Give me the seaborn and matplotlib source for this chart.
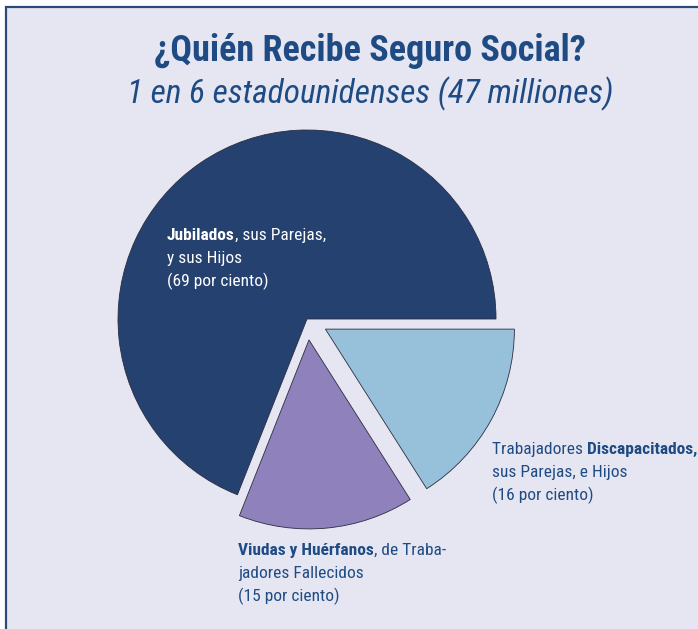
import matplotlib
matplotlib.use('Agg')
import matplotlib.pyplot as plt
from matplotlib import font_manager as fm
from matplotlib.patches import Rectangle
import seaborn as sns

# datos del grafico (orden: desde las 3 en punto, en sentido antihorario)
grupos = ['Jubilados', 'Viudas y Huérfanos', 'Trabajadores Discapacitados']
porcentajes = [69, 15, 16]
colores = ['#254170', '#8f81bb', '#97c1da']
separacion = [0, 21, 21]

titulo = '¿Quién Recibe Seguro Social?'
subtitulo = '1 en 6 estadounidenses (47 milliones)'

# etiquetas: primera linea en trozos (texto, negrita), luego las demas lineas
etiquetas = [
    [[('Jubilados', True), (', sus Parejas,', False)], 'y sus Hijos', '(69 por ciento)'],
    [[('Viudas y Huérfanos', True), (', de Traba-', False)], 'jadores Fallecidos', '(15 por ciento)'],
    [[('Trabajadores ', False), ('Discapacitados,', True)], 'sus Parejas, e Hijos', '(16 por ciento)'],
]
pos_etiquetas = [(167, 240), (238, 555), (492, 454)]
color_etiquetas = ['white', '#1f4b84', '#1f4b84']


def elegir_fuente(opciones):
    for f in opciones:
        try:
            fm.findfont(fm.FontProperties(family=f), fallback_to_default=False)
            return f
        except ValueError:
            pass
    return 'DejaVu Sans'


sns.set_theme(style='white')
fuente = elegir_fuente(['Liberation Sans Narrow', 'Roboto Condensed', 'Open Sans Condensed', 'Liberation Sans'])
plt.rcParams['font.family'] = [fuente, 'DejaVu Sans']

azul_texto = '#1f4b84'

fig = plt.figure(figsize=(6.98, 6.29), dpi=100, facecolor='white')
ax = fig.add_axes([0, 0, 1, 1])

ax.pie(porcentajes, colors=colores, explode=separacion, center=(307, 319), radius=189,
       startangle=0, counterclock=False,
       wedgeprops=dict(edgecolor='#2b2d40', linewidth=0.6))

ax.set_xlim(0, 698)
ax.set_ylim(629, 0)
ax.axis('off')

# panel de fondo con borde
ax.add_patch(Rectangle((6, 7), 760, 700, facecolor='#e6e6f2', edgecolor='#2a4a7a',
                       linewidth=1.6, zorder=0))

ax.text(370, 51, titulo, ha='center', va='center', fontsize=26, weight='bold', color=azul_texto)
ax.text(370, 94, subtitulo, ha='center', va='center', fontsize=24, style='italic', color=azul_texto)

paso = 23
tam = 12.5
for lineas, (x, y), c in zip(etiquetas, pos_etiquetas, color_etiquetas):
    trozos = lineas[0]
    t = ax.text(x, y, trozos[0][0], fontsize=tam, color=c, va='baseline', ha='left',
                weight='bold' if trozos[0][1] else 'normal')
    for texto, negrita in trozos[1:]:
        t = ax.annotate(texto, xy=(1, 0), xycoords=t, fontsize=tam, color=c, va='bottom', ha='left',
                        weight='bold' if negrita else 'normal')
    for i, linea in enumerate(lineas[1:], start=1):
        ax.text(x, y + paso * i, linea, fontsize=tam, color=c, va='baseline', ha='left')

fig.savefig('out.png', dpi=100, facecolor='white')
